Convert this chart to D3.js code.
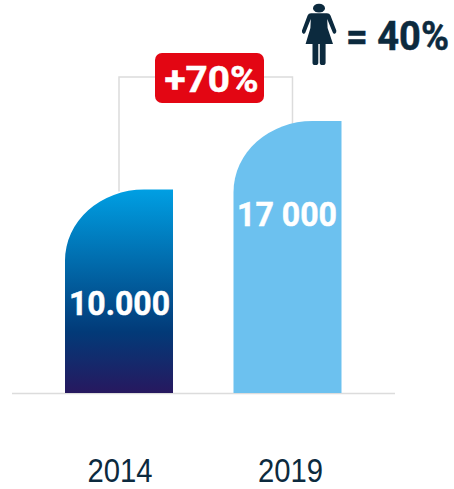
<!DOCTYPE html>
<html>
<head>
<meta charset="utf-8">
<script src="https://cdn.jsdelivr.net/npm/d3@7"></script>
<style>
  html, body { margin: 0; padding: 0; background: #fff; }
  svg { display: block; }
  text { font-family: Roboto, sans-serif; }
</style>
</head>
<body>
<svg id="chart" width="454" height="489"></svg>
<script>
var years = ['2014', '2019'];
var values = [10000, 17000];
var value_labels = ['10.000', '17 000'];
var change_label = '+70%';
var legend_label = '= 40%';

var ink = '#0c2a3e';
var rule = '#dcdcdc';

var svg = d3.select('#chart');

var x = d3.scaleBand().domain(years).range([65, 341.5]).paddingInner(0.359).paddingOuter(0);

// the bars in the picture are not to scale, so the baseline sits below zero
var y = d3.scaleLinear().domain([-10796, 17000]).range([393, 121]);

var grad = svg.append('defs').append('linearGradient')
    .attr('id', 'bar-grad')
    .attr('x1', 0).attr('y1', 0).attr('x2', 0).attr('y2', 1);
grad.append('stop').attr('offset', '0%').attr('stop-color', '#009fe3');
grad.append('stop').attr('offset', '70%').attr('stop-color', '#023a78');
grad.append('stop').attr('offset', '100%').attr('stop-color', '#27185f');

// connector behind the bars and the badge, the right leg is off centre
var left_x = x(years[0]) + x.bandwidth() / 2;
var right_x = x(years[1]) + x.bandwidth() / 2 + 5;
var top_y = 77;
svg.append('path')
    .attr('d', d3.line()([[left_x, y(values[0]) + 2], [left_x, top_y], [right_x, top_y], [right_x, y(values[1]) + 4]]))
    .attr('fill', 'none')
    .attr('stroke', rule)
    .attr('stroke-width', 1.5);

// baseline
svg.append('line')
    .attr('x1', 12).attr('x2', 395)
    .attr('y1', y.range()[0] + 0.5).attr('y2', y.range()[0] + 0.5)
    .attr('stroke', rule)
    .attr('stroke-width', 1.5);

function bar_path(d, i)
{
  var x0 = x(years[i]);
  var x1 = x0 + x.bandwidth();
  var y0 = y(d);
  var y1 = y.range()[0];
  var rx = 79, ry = 71;
  return 'M' + x0 + ',' + y1 +
         'V' + (y0 + ry) +
         'A' + rx + ',' + ry + ' 0 0 1 ' + (x0 + rx) + ',' + y0 +
         'H' + x1 +
         'V' + y1 + 'Z';
}

svg.selectAll('.bar')
    .data(values)
    .enter()
    .append('path')
    .attr('class', 'bar')
    .attr('d', bar_path)
    .attr('fill', (d, i) => i == 0 ? 'url(#bar-grad)' : '#6cc1ef');

var value_y = [315, 226];
var value_width = [101, 100];
svg.selectAll('.value')
    .data(value_labels)
    .enter()
    .append('text')
    .attr('class', 'value')
    .attr('x', (d, i) => x(years[i]) + x.bandwidth() / 2 + (i == 0 ? 0.5 : -0.5))
    .attr('y', (d, i) => value_y[i])
    .attr('text-anchor', 'middle')
    .attr('fill', '#fff')
    .attr('stroke', '#fff')
    .attr('stroke-width', 0.5)
    .attr('font-size', 34)
    .attr('font-weight', 700)
    .attr('textLength', (d, i) => value_width[i])
    .attr('lengthAdjust', 'spacingAndGlyphs')
    .text(d => d);

// year labels, Liberation has a shorter descent so the box stays inside the page
var axis = svg.append('g')
    .attr('transform', 'translate(0,' + y.range()[0] + ')')
    .call(d3.axisBottom(x).tickSize(0).tickPadding(65.5));
axis.select('.domain').remove();
axis.selectAll('text')
    .attr('fill', ink)
    .style('font-family', '"Liberation Sans", sans-serif')
    .attr('font-size', 33)
    .attr('dx', (d, i) => i == 0 ? 1 : 3)
    .attr('textLength', 65)
    .attr('lengthAdjust', 'spacingAndGlyphs');

// badge
svg.append('rect')
    .attr('x', 155).attr('y', 53)
    .attr('width', 109).attr('height', 50)
    .attr('rx', 7)
    .attr('fill', '#e30613');
svg.append('text')
    .attr('x', 211.5).attr('y', 92)
    .attr('text-anchor', 'middle')
    .attr('fill', '#fff')
    .attr('stroke', '#fff')
    .attr('stroke-width', 0.5)
    .attr('font-size', 37)
    .attr('font-weight', 700)
    .attr('textLength', 94)
    .attr('lengthAdjust', 'spacingAndGlyphs')
    .text(change_label);

// legend pictogram
var icon = svg.append('g').attr('transform', 'translate(302,0)').attr('fill', ink);
icon.append('ellipse').attr('cx', 17).attr('cy', 8.2).attr('rx', 6).attr('ry', 4.4);
icon.append('path').attr('d',
    'M9,13.3 H25 Q27.5,13.3 28.5,15.5 L34.3,30.5 Q34.8,32.5 33,33.7 Q31.5,34.2 30.8,32.5 L25.2,19 L25.6,28 L31,44 H3.6 L8.4,28 L8.8,19 L3.4,32.5 Q2.6,34.2 1.2,33.7 Q-0.6,32.5 0,30.5 L5.6,15.5 Q6.6,13.3 9,13.3 Z');
icon.append('rect').attr('x', 10.5).attr('y', 40).attr('width', 5.8).attr('height', 25).attr('rx', 2.6);
icon.append('rect').attr('x', 17.8).attr('y', 40).attr('width', 5.8).attr('height', 25).attr('rx', 2.6);

svg.append('text')
    .attr('x', 346).attr('y', 50)
    .attr('fill', ink)
    .attr('stroke', ink)
    .attr('stroke-width', 0.5)
    .attr('font-size', 40)
    .attr('font-weight', 700)
    .attr('textLength', 103)
    .attr('lengthAdjust', 'spacingAndGlyphs')
    .text(legend_label);
</script>
</body>
</html>
